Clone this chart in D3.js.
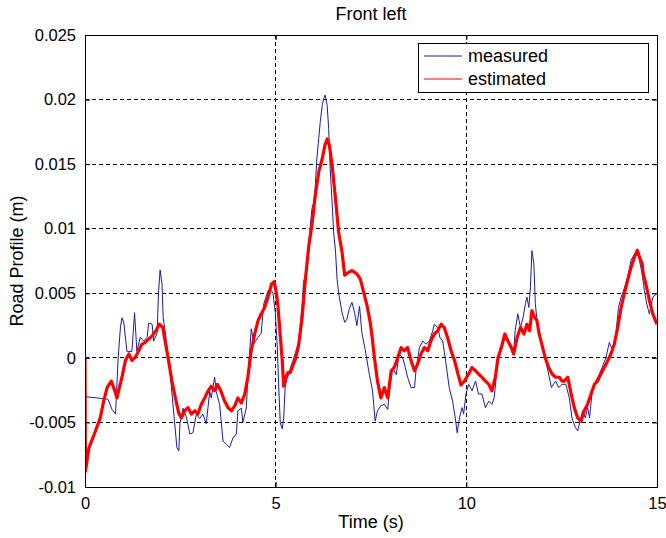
<!DOCTYPE html>
<html lang="en">
<head>
<meta charset="UTF-8">
<title>Front left</title>
<script src="https://d3js.org/d3.v7.min.js"></script>
<style>
  body { margin: 0; background: #fff; font-family: "Liberation Sans", Arial, sans-serif; }
  svg text { fill: #000; }
</style>
</head>
<body>
<div id="chart"></div>
<script>
// tick values and labels
const xTicks = [0, 5, 10, 15];
const xTickLabels = ["0", "5", "10", "15"];
const yTicks = [-0.01, -0.005, 0, 0.005, 0.01, 0.015, 0.02, 0.025];
const yTickLabels = ["-0.01", "-0.005", "0", "0.005", "0.01", "0.015", "0.02", "0.025"];

const seriesNames = ["measured", "estimated"];

// measured road profile: time (s) and value (mm)
const measuredT = [0, 0.3, 0.6, 0.71, 0.8, 0.87, 0.93, 0.97, 1.02, 1.1, 1.23, 1.3, 1.36, 1.45, 1.54, 1.63, 1.67, 1.76, 1.8, 1.89,
  1.93, 1.97, 2.02, 2.05, 2.1, 2.21, 2.33, 2.41, 2.46, 2.49, 2.57, 2.66, 2.75, 2.83, 2.92, 3.01, 3.09, 3.18, 3.27, 3.31,
  3.4, 3.44, 3.53, 3.62, 3.71, 3.79, 3.88, 3.97, 4.01, 4.1, 4.14, 4.23, 4.27, 4.36, 4.43, 4.54, 4.62, 4.69, 4.8, 4.89,
  4.93, 4.99, 5.04, 5.08, 5.12, 5.17, 5.21, 5.25, 5.3, 5.38, 5.52, 5.6, 5.69, 5.73, 5.78, 5.87, 5.91, 5.95, 6.0, 6.04,
  6.08, 6.13, 6.17, 6.22, 6.26, 6.3, 6.35, 6.39, 6.43, 6.48, 6.52, 6.57, 6.61, 6.65, 6.74, 6.81, 6.87, 6.93, 7.0, 7.07,
  7.13, 7.2, 7.26, 7.35, 7.44, 7.54, 7.61, 7.67, 7.76, 7.85, 7.94, 7.98, 8.07, 8.16, 8.24, 8.33, 8.4, 8.46, 8.55, 8.64,
  8.68, 8.77, 8.86, 8.94, 9.03, 9.12, 9.16, 9.25, 9.31, 9.38, 9.47, 9.55, 9.64, 9.71, 9.76, 9.82, 9.89, 9.93, 9.99, 10.06,
  10.15, 10.24, 10.32, 10.41, 10.5, 10.59, 10.67, 10.73, 10.8, 10.89, 10.98, 11.07, 11.15, 11.24, 11.28, 11.35, 11.42, 11.49, 11.55, 11.59,
  11.64, 11.68, 11.72, 11.77, 11.81, 11.88, 11.97, 12.06, 12.14, 12.23, 12.34, 12.42, 12.51, 12.61, 12.7, 12.77, 12.86, 12.92, 12.98, 13.05,
  13.12, 13.18, 13.23, 13.31, 13.49, 13.66, 13.75, 13.84, 13.93, 13.99, 14.06, 14.14, 14.23, 14.32, 14.41, 14.48, 14.54, 14.61, 14.67, 14.73,
  14.8, 14.89, 15.0];
const measuredMm = [-3.0, -3.1, -3.2, -4.0, -4.35, 0, 2.4, 3.1, 2.7, 0.5, 0.5, 3.5, 0.5, 1.6, 1.3, 1.6, 2.7, 2.6, 1.3, 1.9,
  5.2, 6.8, 5.7, 3.1, 2.1, -0.5, -4.35, -6.95, -7.2, -5.1, -3.9, -4.6, -5.9, -5.8, -4.35, -4.7, -4.35, -5.1, -2.6, -3.1,
  -1.5, -2.6, -3.6, -6.45, -6.7, -6.95, -6.2, -5.9, -4.1, -3.9, -5.0, -3.9, -1.5, 2.25, 1.1, 1.6, 1.9, 4.2, 5.2, 5.2,
  5.0, 3.5, 1.0, -2.2, -5.0, -5.5, -4.7, -2.2, -1.6, -0.85, 0.4, 1.2, 4.0, 5.85, 6.4, 8.95, 10.25, 11.55, 12.05, 13.35,
  15.4, 17.0, 18.3, 19.55, 20.1, 20.35, 19.55, 17.75, 14.65, 12.05, 9.75, 8.2, 6.1, 5.05, 3.5, 2.75, 3.0, 3.8, 4.3, 3.5,
  2.5, 4.0, 1.95, 0.6, -1.0, -2.55, -4.9, -4.1, -3.7, -3.6, -4.0, -2.55, -0.75, -1.3, 0.3, 0.0, -0.75, -1.5, -2.3, -2.3,
  -1.0, 0.8, 1.3, 1.05, 1.3, 2.1, 2.6, 2.35, 1.55, 1.3, -0.5, -2.3, -3.35, -4.65, -5.8, -4.65, -3.85, -4.35, -2.8, -2.05,
  -2.55, -1.8, -2.8, -2.8, -3.85, -3.35, -3.6, -3.1, -1.0, 0.8, 1.3, 1.55, 0.8, 0.3, 2.1, 3.4, 2.35, 3.15, 4.2, 4.7,
  3.9, 5.45, 8.3, 7.3, 4.2, 2.1, 1.3, 0.0, -1.0, -2.3, -1.8, -2.3, -2.05, -2.05, -3.1, -4.65, -5.4, -5.65, -4.9, -4.1,
  -4.65, -3.85, -4.65, -2.3, -1.25, 0.0, 1.2, 0.55, 2.1, 3.9, 4.7, 5.35, 6.25, 7.55, 8.05, 8.45, 7.55, 6.5, 5.2, 4.2,
  3.4, 4.7, 5.0];

// estimated road profile: time (s) and value (mm)
const estimatedT = [0, 0.01, 0.1, 0.27, 0.4, 0.49, 0.58, 0.69, 0.78, 0.84, 0.9, 0.97, 1.06, 1.15, 1.23, 1.32, 1.41, 1.49, 1.58, 1.67,
  1.76, 1.86, 1.95, 2.04, 2.1, 2.19, 2.28, 2.37, 2.46, 2.53, 2.61, 2.7, 2.79, 2.88, 2.96, 3.05, 3.14, 3.23, 3.31, 3.4,
  3.47, 3.56, 3.66, 3.75, 3.84, 3.93, 4.01, 4.1, 4.19, 4.27, 4.36, 4.45, 4.54, 4.62, 4.71, 4.8, 4.89, 4.96, 5.02, 5.06,
  5.1, 5.17, 5.21, 5.25, 5.32, 5.38, 5.45, 5.52, 5.6, 5.69, 5.78, 5.87, 5.95, 6.04, 6.13, 6.22, 6.29, 6.35, 6.41, 6.48,
  6.57, 6.65, 6.74, 6.81, 6.9, 7.0, 7.13, 7.22, 7.31, 7.4, 7.48, 7.53, 7.59, 7.67, 7.76, 7.85, 7.94, 8.03, 8.11, 8.2,
  8.29, 8.37, 8.46, 8.55, 8.64, 8.72, 8.81, 8.9, 8.99, 9.07, 9.16, 9.25, 9.34, 9.42, 9.51, 9.6, 9.69, 9.78, 9.86, 9.95,
  10.06, 10.15, 10.24, 10.32, 10.41, 10.5, 10.59, 10.67, 10.76, 10.83, 10.92, 11.01, 11.09, 11.18, 11.24, 11.33, 11.42, 11.51, 11.59, 11.66,
  11.72, 11.79, 11.85, 11.91, 11.98, 12.07, 12.16, 12.25, 12.34, 12.44, 12.51, 12.57, 12.66, 12.75, 12.83, 12.92, 13.01, 13.09, 13.18, 13.27,
  13.36, 13.44, 13.53, 13.62, 13.71, 13.79, 13.88, 13.97, 14.06, 14.14, 14.23, 14.32, 14.41, 14.49, 14.54, 14.61, 14.64, 14.71, 14.8, 14.89,
  15.0];
const estimatedMm = [0, -8.8, -7.0, -5.7, -4.65, -3.35, -2.3, -1.8, -2.55, -3.1, -2.3, -1.5, -0.2, 0.3, -0.2, 0.05, 0.55, 1.05, 1.2, 1.45,
  1.7, 2.1, 2.6, 2.35, 1.3, -0.2, -1.8, -3.1, -4.3, -4.65, -4.1, -3.85, -4.35, -4.1, -4.35, -3.6, -3.1, -2.55, -2.2, -2.55,
  -2.05, -2.55, -3.35, -3.85, -4.1, -3.7, -3.1, -3.5, -2.8, -1.5, 0.55, 1.85, 2.9, 3.4, 3.9, 4.7, 5.7, 5.9, 5.0, 4.0,
  2.5, -0.1, -2.2, -1.65, -1.15, -1.15, -0.6, -0.1, 0.95, 3.0, 6.1, 8.7, 10.25, 12.6, 14.4, 15.4, 16.45, 16.95, 16.45, 14.9,
  12.3, 9.75, 8.2, 6.4, 6.6, 6.75, 6.5, 6.1, 5.05, 4.0, 2.75, 1.6, 0.0, -1.8, -3.1, -2.3, -3.1, -1.0, -0.75, 0.0,
  0.8, 0.55, 0.8, -0.2, -1.0, -0.5, 0.3, 0.8, 0.55, 1.3, 1.85, 2.1, 2.6, 2.35, 1.55, 0.55, -0.2, -1.25, -2.1, -1.8,
  -1.25, -0.75, -1.0, -1.25, -1.5, -1.8, -2.05, -2.55, -1.5, 0.0, 0.8, 1.85, 1.3, 0.8, 0.3, 1.55, 2.35, 1.85, 2.6, 2.1,
  3.65, 3.15, 2.9, 1.85, 1.05, 0.0, -0.75, -1.25, -1.5, -1.5, -1.8, -1.8, -1.5, -2.8, -3.85, -4.65, -4.9, -4.1, -3.6, -2.8,
  -2.05, -1.8, -1.25, -0.75, -0.2, 0.3, 1.05, 2.35, 3.9, 4.95, 6.0, 7.0, 7.8, 8.3, 7.8, 7.3, 6.5, 5.7, 4.45, 3.4,
  2.6];

const margin = {top: 35, right: 9, bottom: 51, left: 85};
const W = 666, H = 538;
const width = W - margin.left - margin.right;
const height = H - margin.top - margin.bottom;

const svg = d3.select("#chart").append("svg")
  .attr("width", W)
  .attr("height", H);

const g = svg.append("g")
  .attr("transform", "translate(" + margin.left + "," + margin.top + ")");

const x = d3.scaleLinear().domain([0, 15]).range([0, width]);
const y = d3.scaleLinear().domain([-0.01, 0.025]).range([height, 0]);

// dashed grid
g.append("g").selectAll("line")
  .data(xTicks.slice(1, -1))
  .enter().append("line")
  .attr("x1", d => x(d)).attr("x2", d => x(d))
  .attr("y1", 0).attr("y2", height)
  .attr("stroke", "#000").attr("stroke-width", 1)
  .attr("stroke-dasharray", "4,3")
  .attr("shape-rendering", "crispEdges");

g.append("g").selectAll("line")
  .data(yTicks.slice(1, -1))
  .enter().append("line")
  .attr("x1", 0).attr("x2", width)
  .attr("y1", d => y(d)).attr("y2", d => y(d))
  .attr("stroke", "#000").attr("stroke-width", 1)
  .attr("stroke-dasharray", "4,3")
  .attr("shape-rendering", "crispEdges");

// clip for the lines
svg.append("defs").append("clipPath").attr("id", "plotClip")
  .append("rect").attr("width", width).attr("height", height);

const line = d3.line()
  .x(d => x(d[0]))
  .y(d => y(d[1] / 1000));

const measured = measuredT.map((t, i) => [t, measuredMm[i]]);
const estimated = estimatedT.map((t, i) => [t, estimatedMm[i]]);

const plot = g.append("g").attr("clip-path", "url(#plotClip)");

plot.append("path")
  .datum(measured)
  .attr("fill", "none")
  .attr("stroke", "#1c1ca0")
  .attr("stroke-width", 1)
  .attr("d", line);

plot.append("path")
  .datum(estimated)
  .attr("fill", "none")
  .attr("stroke", "#ff0000")
  .attr("stroke-width", 3.2)
  .attr("stroke-linejoin", "round")
  .attr("d", line);

// axes, ticks inward on all four sides
const tickLen = 5;
g.append("g")
  .attr("transform", "translate(0," + height + ")")
  .call(d3.axisBottom(x).tickValues(xTicks).tickSize(-tickLen).tickPadding(10)
    .tickFormat((d, i) => xTickLabels[i]));
g.append("g")
  .call(d3.axisTop(x).tickValues(xTicks).tickSize(-tickLen).tickFormat(""));
g.append("g")
  .call(d3.axisLeft(y).tickValues(yTicks).tickSize(-tickLen).tickPadding(9)
    .tickFormat((d, i) => yTickLabels[i]));
g.append("g")
  .attr("transform", "translate(" + width + ",0)")
  .call(d3.axisRight(y).tickValues(yTicks).tickSize(-tickLen).tickFormat(""));

g.selectAll(".domain").attr("stroke", "#000");
g.selectAll(".tick line").attr("stroke", "#000");
g.selectAll(".tick text")
  .attr("font-family", "'Liberation Sans', Arial, sans-serif")
  .attr("font-size", 16.5)
  .attr("fill", "#000");

// frame
g.append("rect")
  .attr("width", width).attr("height", height)
  .attr("fill", "none").attr("stroke", "#000")
  .attr("shape-rendering", "crispEdges");

// legend
const legend = g.append("g").attr("transform", "translate(333,8)");
legend.append("rect")
  .attr("width", 230).attr("height", 49)
  .attr("fill", "#fff").attr("stroke", "#000")
  .attr("shape-rendering", "crispEdges");
const legendColors = ["#1c1ca0", "#ff0000"];
seriesNames.forEach((name, i) => {
  const row = legend.append("g").attr("transform", "translate(0," + (13 + i * 23) + ")");
  row.append("line")
    .attr("x1", 6).attr("x2", 44)
    .attr("stroke", legendColors[i]).attr("stroke-width", 1);
  row.append("text")
    .attr("x", 50).attr("dy", "0.35em")
    .attr("font-size", 18)
    .text(name);
});

// titles
svg.append("text")
  .attr("x", margin.left + width / 2).attr("y", 20)
  .attr("text-anchor", "middle")
  .attr("font-size", 18)
  .text("Front left");

svg.append("text")
  .attr("x", margin.left + width / 2).attr("y", 528)
  .attr("text-anchor", "middle")
  .attr("font-size", 18)
  .text("Time (s)");

svg.append("text")
  .attr("transform", "translate(23," + (margin.top + height / 2) + ") rotate(-90)")
  .attr("text-anchor", "middle")
  .attr("font-size", 18)
  .text("Road Profile (m)");
</script>
</body>
</html>
